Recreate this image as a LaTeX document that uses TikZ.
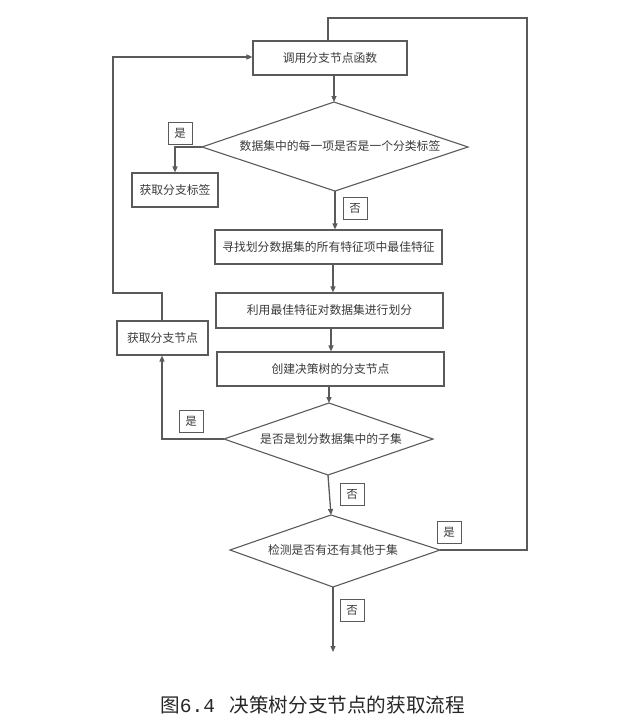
\documentclass[tikz,border=0pt]{standalone}
\usepackage{fontspec}
\setmainfont{Noto Sans CJK SC}
\newfontfamily\cjk{Noto Sans CJK SC}
\newfontfamily\capmono{Liberation Mono}
\usetikzlibrary{shapes.geometric,arrows.meta}
\definecolor{ln}{HTML}{5A5A5A}
\definecolor{tx}{HTML}{3A3A3A}
\begin{document}
\begin{tikzpicture}[x=1pt,y=-1pt,
  proc/.style={draw=ln,line width=1.1pt,rectangle,inner sep=0pt,text=tx,font=\cjk\fontsize{11.8}{13}\selectfont},
  dtext/.style={text=tx,font=\cjk\fontsize{11.8}{13}\selectfont},
  lab/.style={draw=ln,line width=1pt,rectangle,minimum width=24pt,minimum height=22pt,inner sep=0pt,text=tx,font=\cjk\fontsize{11.5}{13}\selectfont},
  conn/.style={draw=ln,line width=1.3pt},
  arr/.style={conn,-{Triangle[length=6pt,width=5pt]}}]
\useasboundingbox (0,0) rectangle (640,724);
% process boxes
\node[proc,minimum width=154pt,minimum height=34pt] (b1) at (330,58) {调用分支节点函数};
\node[proc,minimum width=86pt,minimum height=34pt] (lb) at (175,190) {获取分支标签};
\node[proc,minimum width=227pt,minimum height=34pt] (b3) at (328.5,247) {寻找划分数据集的所有特征项中最佳特征};
\node[proc,minimum width=227pt,minimum height=35pt] (b4) at (329.5,310.5) {利用最佳特征对数据集进行划分};
\node[proc,minimum width=227pt,minimum height=34pt] (b5) at (330.5,369) {创建决策树的分支节点};
\node[proc,minimum width=91pt,minimum height=34pt] (nb) at (162.5,338) {获取分支节点};
% decision diamonds
\coordinate (d1t) at (334,102); \coordinate (d1l) at (202,147); \coordinate (d1r) at (468,147); \coordinate (d1b) at (335,191);
\coordinate (d2t) at (329,403); \coordinate (d2l) at (224,439); \coordinate (d2r) at (433,439); \coordinate (d2b) at (328,475);
\coordinate (d3t) at (331,515); \coordinate (d3l) at (230,550); \coordinate (d3r) at (440,550); \coordinate (d3b) at (333,587);
\draw[draw=ln,line width=1.1pt] (d1t) -- (d1r) -- (d1b) -- (d1l) -- cycle;
\draw[draw=ln,line width=1.1pt] (d2t) -- (d2r) -- (d2b) -- (d2l) -- cycle;
\draw[draw=ln,line width=1.1pt] (d3t) -- (d3r) -- (d3b) -- (d3l) -- cycle;
\node[dtext] (d1) at (340,146) {数据集中的每一项是否是一个分类标签};
\node[dtext] (d2) at (331,439) {是否是划分数据集中的子集};
\node[dtext] (d3) at (333,550) {检测是否有还有其他于集};
% yes/no labels
\node[lab] (y1) at (180,133) {是};
\node[lab] (n1) at (355,208) {否};
\node[lab] (y2) at (191,421.5) {是};
\node[lab] (n2) at (352,494.5) {否};
\node[lab] (y3) at (449,532) {是};
\node[lab] (n3) at (352,610) {否};
% connectors
\coordinate (c1) at (175,147);
\draw[arr] (d1l) -- (c1) -- (lb.north);
\draw[arr] (b1.south -| d1t) -- (d1t);
\draw[arr] (d1b) -- (b3.north -| d1b);
\draw[arr] (b3.south -| 333,0) -- (b4.north -| 333,0);
\draw[arr] (b4.south -| 331,0) -- (b5.north -| 331,0);
\draw[arr] (b5.south -| d2t) -- (d2t);
\coordinate (c2) at (162,439);
\draw[arr] (d2l) -- (c2) -- (nb.south -| c2);
\draw[arr] (d2b) -- (d3t);
\coordinate (c3) at (162,293); \coordinate (c4) at (113,293); \coordinate (c5) at (113,57);
\draw[arr] (nb.north -| c3) -- (c3) -- (c4) -- (c5) -- (b1.west |- c5);
\coordinate (r1) at (527,550); \coordinate (r2) at (527,18); \coordinate (r3) at (328,18);
\draw[conn] (d3r) -- (r1) -- (r2) -- (r3) -- (b1.north -| r3);
\coordinate (end) at (333,652);
\draw[arr] (d3b) -- (end);
% caption
\node[text=black!85,font=\cjk\fontsize{19.6}{21}\selectfont,anchor=west,inner sep=0pt] (cap) at (160,705) {图{\capmono 6.4}\hspace{0.75em}决策树分支节点的获取流程};
\end{tikzpicture}
\end{document}
